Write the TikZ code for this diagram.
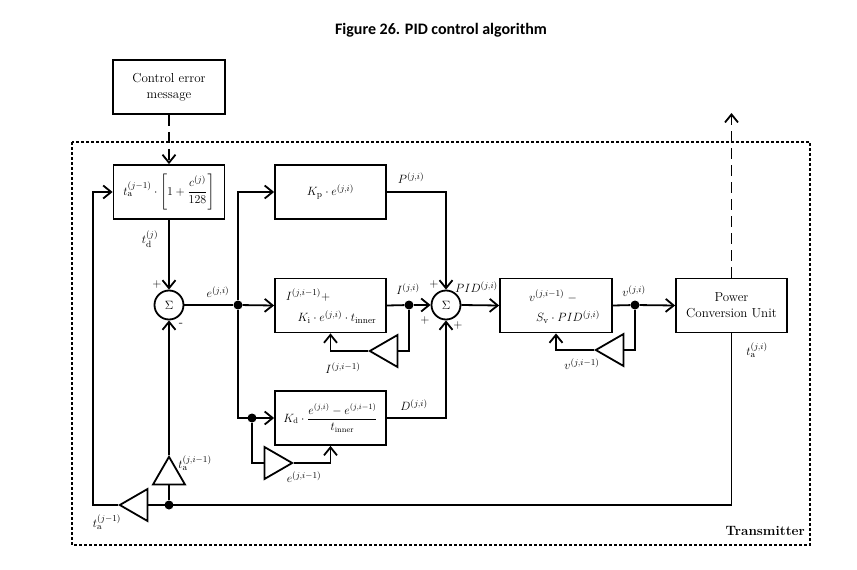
\documentclass[tikz,border=0pt]{standalone}
\usepackage{amsmath}
\usepackage{fontspec}
\newfontfamily\titlefont{Carlito}
\usetikzlibrary{arrows.meta,shapes.geometric}
\begin{document}
\begin{tikzpicture}[x=1pt,y=-1pt,
  every node/.style={font=\fontsize{13}{15}\selectfont},
  txt/.style={font=\fontsize{13}{16}\selectfont},
  blk/.style={draw, line width=1.8pt, minimum width=111pt, minimum height=54pt, inner sep=0pt},
  sumn/.style={draw,circle,line width=1.8pt,minimum size=29pt,inner sep=0pt},
  tri/.style={draw,regular polygon,regular polygon sides=3,minimum size=37pt,inner sep=0pt,line width=1.8pt},
  wire/.style={line width=1.8pt},
  arr/.style={wire,-{Straight Barb[length=8pt,width=13pt]}},
  dotn/.style={circle,fill,inner sep=0pt,minimum size=9pt},
  lbl/.style={inner sep=0pt},
  longdash/.style={dash pattern=on 11pt off 6pt}
]
\useasboundingbox (0,0) rectangle (857,570);

% title
\node[lbl,font=\titlefont\bfseries\fontsize{16}{18}\selectfont] (title) at (441,30) {Figure 26. PID control algorithm};

% transmitter frame
\draw[line width=1.8pt,dash pattern=on 3pt off 2pt] (72,142) rectangle (810,545);
\node[lbl,anchor=east,font=\bfseries\fontsize{13.5}{16}\selectfont] (tx) at (805,531) {Transmitter};

% blocks
\node[blk,txt,minimum width=112pt,align=center] (cem) at (169,87) {Control error\\message};
\node[blk] (b1) at (169,192) {$t_{\mathrm{a}}^{(j-1)}\cdot\left[1+\dfrac{c^{(j)}}{128}\right]$};
\node[blk] (bp) at (330.5,192) {$K_{\mathrm{p}}\cdot e^{(j,i)}$};
\node[blk] (bi) at (330.5,305.5) {};
\node[blk,font=\fontsize{12}{14}\selectfont] (bd) at (330.5,418) {$K_{\mathrm{d}}\cdot\dfrac{e^{(j,i)}-e^{(j,i-1)}}{t_{\mathrm{inner}}}$};
\node[blk,minimum width=112pt] (bv) at (556,305.5) {};
\node[blk,txt,align=center] (pcu) at (731.5,305.5) {Power\\Conversion Unit};

\node[lbl] (bi1) at (308,295) {$I^{(j,i-1)}+$};
\node[lbl] (bi2) at (337,317) {$K_{\mathrm{i}}\cdot e^{(j,i)}\cdot t_{\mathrm{inner}}$};
\node[lbl] (bv1) at (553,296) {$v^{(j,i-1)}\;-$};
\node[lbl] (bv2) at (568,317) {$S_{\mathrm{v}}\cdot PID^{(j,i)}$};

% summing junctions
\node[sumn] (s1) at (169,305) {$\Sigma$};
\node[sumn] (s2) at (446,305) {$\Sigma$};

% dots
\node[dotn] (d1) at (169,505) {};
\node[dotn] (d2) at (238,305) {};
\node[dotn] (d3) at (252,418) {};
\node[dotn] (d4) at (409,305) {};
\node[dotn] (d5) at (635,305) {};

% triangles (gains / delays)
\node[tri,shape border rotate=90,anchor=corner 1] (g1) at (118,505) {};
\node[tri,anchor=corner 1] (g2) at (169,455) {};
\node[tri,shape border rotate=-90,anchor=corner 1] (g3) at (294,463) {};
\node[tri,shape border rotate=90,anchor=corner 1] (g4) at (368,351) {};
\node[tri,shape border rotate=90,anchor=corner 1] (g5) at (594,350) {};

\coordinate (bl) at (93,505);
\coordinate (out) at (731.5,113);

% connectors
\draw[arr,longdash] (cem.south) -- (b1.north);
\draw[arr] (b1.south) -- (s1.north);
\draw[wire] (pcu.south) |- (g1.side 2);
\draw[arr] (g1.corner 1) -- (bl) |- (b1.west);
\draw[wire] (d1) -- (g2.side 2);
\draw[arr] (g2.corner 1) -- (s1.south);
\draw[wire] (s1.east) -- (d2);
\draw[arr] (d2) -- (bi.west);
\draw[arr] (d2) |- (bp.west);
\draw[arr] (d2) |- (bd.west);
\draw[wire] (d3) |- (g3.side 2);
\draw[arr] (g3.corner 1) -| (bd.south);
\draw[arr] (bp.east) -| (s2.north);
\draw[wire] (bi.east) -- (d4);
\draw[arr] (d4) -- (s2.west);
\draw[wire] (d4) |- (g4.side 2);
\draw[arr] (g4.corner 1) -| (bi.south);
\draw[arr] (bd.east) -| (s2.south);
\draw[arr] (s2.east) -- (bv.west);
\draw[wire] (bv.east) -- (d5);
\draw[arr] (d5) -- (pcu.west);
\draw[wire] (d5) |- (g5.side 2);
\draw[arr] (g5.corner 1) -| (bv.south);
\draw[arr,longdash] (pcu.north) -- (out);

% labels
\node[lbl] (ltd) at (150,239) {$t_{\mathrm{d}}^{(j)}$};
\node[lbl] (p1) at (157,284) {$+$};
\node[lbl] (m1) at (181,325) {-};
\node[lbl] (le) at (218,292) {$e^{(j,i)}$};
\node[lbl] (lP) at (411,178) {$P^{(j,i)}$};
\node[lbl] (lI) at (408,289) {$I^{(j,i)}$};
\node[lbl] (p2) at (434,284) {$+$};
\node[lbl] (p3) at (425,320) {$+$};
\node[lbl] (p4) at (458,325) {$+$};
\node[lbl,anchor=west] (lPID) at (455,287) {$PID^{(j,i)}$};
\node[lbl] (lI1) at (343,368) {$I^{(j,i-1)}$};
\node[lbl] (lD) at (414,405) {$D^{(j,i)}$};
\node[lbl] (le1) at (304,477) {$e^{(j,i-1)}$};
\node[lbl] (lv) at (634,291) {$v^{(j,i)}$};
\node[lbl] (lv1) at (582,364) {$v^{(j,i-1)}$};
\node[lbl] (lta) at (757,350) {$t_{\mathrm{a}}^{(j,i)}$};
\node[lbl] (lta1) at (195,463) {$t_{\mathrm{a}}^{(j,i-1)}$};
\node[lbl] (lta2) at (107,522) {$t_{\mathrm{a}}^{(j-1)}$};
\end{tikzpicture}
\end{document}
